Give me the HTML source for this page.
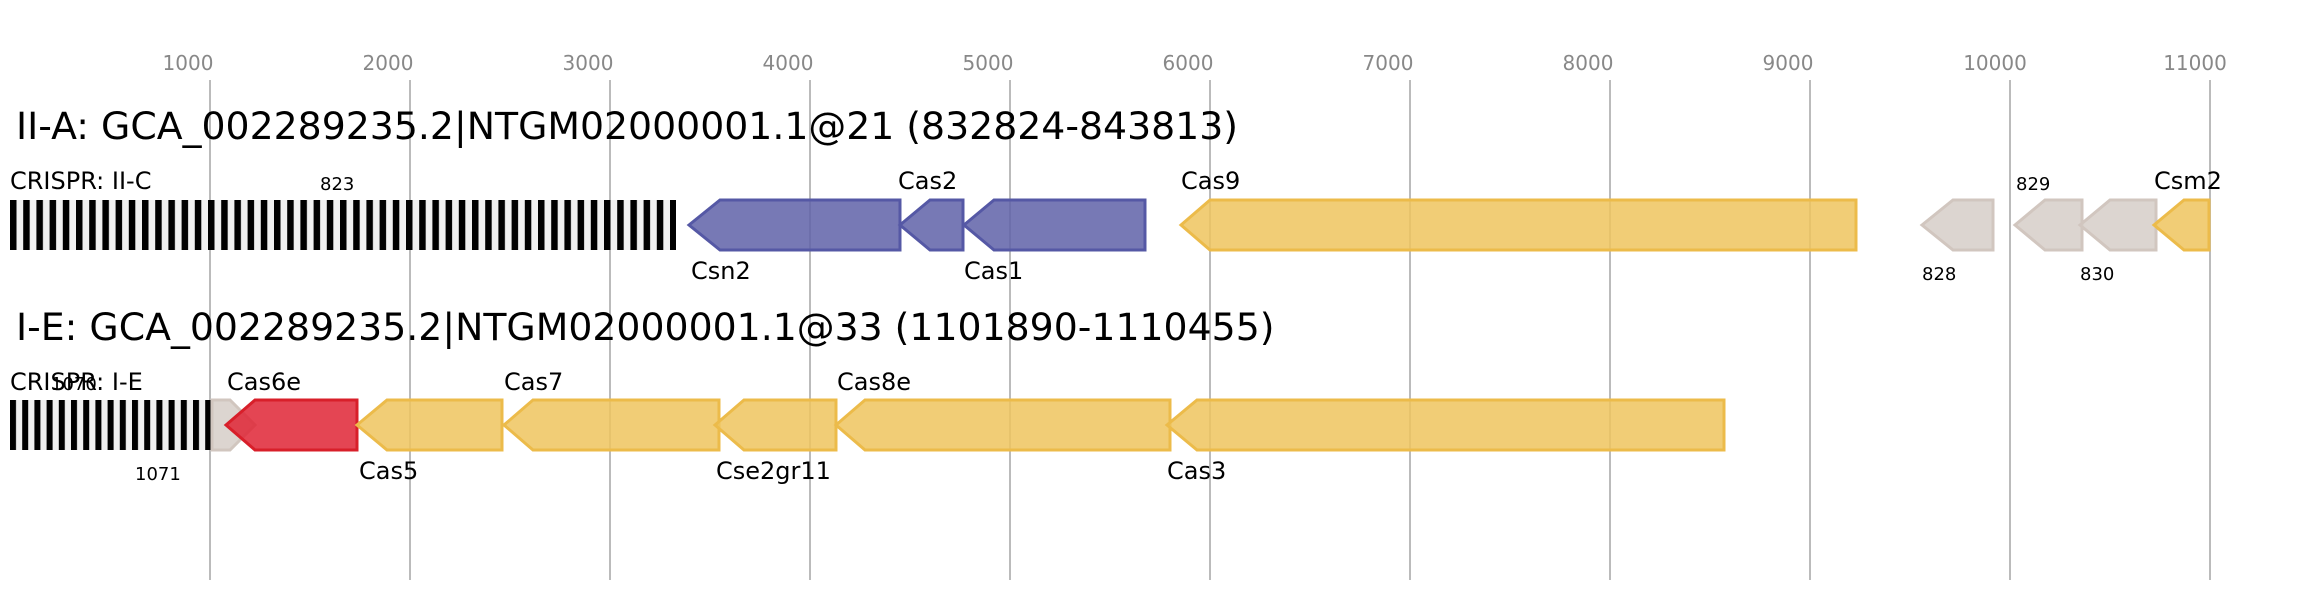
<!DOCTYPE html>
<html><head><meta charset="utf-8"><style>
html,body{margin:0;padding:0;background:#fff;}
svg{display:block;font-family:"DejaVu Sans","Liberation Sans",sans-serif;}
</style></head><body>
<svg width="2298" height="600" viewBox="0 0 2298 600" xmlns="http://www.w3.org/2000/svg">
<defs>
<pattern id="cr1" x="10" y="0" width="13.2" height="600" patternUnits="userSpaceOnUse">
<rect x="0" y="0" width="13.2" height="600" fill="#f0f0f0"/><rect x="0" y="0" width="6.5" height="600" fill="#000"/></pattern>
<pattern id="cr2" x="10" y="0" width="12.2" height="600" patternUnits="userSpaceOnUse">
<rect x="0" y="0" width="12.2" height="600" fill="#f0f0f0"/><rect x="0" y="0" width="6" height="600" fill="#000"/></pattern>
</defs>
<g fill="#888" font-size="20" text-anchor="middle">
<text x="188" y="70">1000</text><text x="388" y="70">2000</text><text x="588" y="70">3000</text>
<text x="788" y="70">4000</text><text x="988" y="70">5000</text><text x="1188" y="70">6000</text>
<text x="1388" y="70">7000</text><text x="1588" y="70">8000</text><text x="1788" y="70">9000</text>
<text x="1995" y="70">10000</text><text x="2195" y="70">11000</text>
</g>
<g stroke="#bbb" stroke-width="2">
<line x1="210" y1="80" x2="210" y2="580"/><line x1="410" y1="80" x2="410" y2="580"/>
<line x1="610" y1="80" x2="610" y2="580"/><line x1="810" y1="80" x2="810" y2="580"/>
<line x1="1010" y1="80" x2="1010" y2="580"/><line x1="1210" y1="80" x2="1210" y2="580"/>
<line x1="1410" y1="80" x2="1410" y2="580"/><line x1="1610" y1="80" x2="1610" y2="580"/>
<line x1="1810" y1="80" x2="1810" y2="580"/><line x1="2010" y1="80" x2="2010" y2="580"/>
<line x1="2210" y1="80" x2="2210" y2="580"/>
</g>
<text x="16" y="139" font-size="37.8" fill="#000">II-A: GCA_002289235.2|NTGM02000001.1@21 (832824-843813)</text>
<text x="16" y="340" font-size="37.8" fill="#000">I-E: GCA_002289235.2|NTGM02000001.1@33 (1101890-1110455)</text>

<rect x="10" y="200" width="666" height="50" fill="url(#cr1)"/>
<rect x="10" y="400" width="201" height="50" fill="url(#cr2)"/>

<g stroke-width="3" fill-opacity="0.85">
<g fill="#5f62a8" stroke="#5558a5">
<polygon points="689,225 720,200 900,200 900,250 720,250"/>
<polygon points="900,225 930,200 963,200 963,250 930,250"/>
<polygon points="964,225 994,200 1145,200 1145,250 994,250"/>
</g>
<polygon points="1181,225 1210,200 1856,200 1856,250 1210,250" fill="#efc45e" stroke="#ecbb4a"/>
<g fill="#d6cec8" stroke="#d1c6bf">
<polygon points="1922,225 1953,200 1993,200 1993,250 1953,250"/>
<polygon points="2015,225 2045,200 2082,200 2082,250 2045,250"/>
<polygon points="2080,225 2110,200 2156,200 2156,250 2110,250"/>
<polygon points="212,400 230,400 255,425 230,450 212,450"/>
</g>
<polygon points="2154,225 2184,200 2209,200 2209,250 2184,250" fill="#efc45e" stroke="#ecbb4a"/>
<polygon points="226,425 255,400 357,400 357,450 255,450" fill="#df2535" stroke="#d81f2a"/>
<g fill="#efc45e" stroke="#ecbb4a">
<polygon points="357,425 387,400 502,400 502,450 387,450"/>
<polygon points="504,425 533,400 719,400 719,450 533,450"/>
<polygon points="715,425 744,400 836,400 836,450 744,450"/>
<polygon points="836,425 865,400 1170,400 1170,450 865,450"/>
<polygon points="1167,425 1197,400 1724,400 1724,450 1197,450"/>
</g>
</g>

<g font-size="24" fill="#000">
<text x="10" y="189">CRISPR: II-C</text>
<text x="898" y="189">Cas2</text>
<text x="1181" y="189">Cas9</text>
<text x="2154" y="189">Csm2</text>
<text x="691" y="279">Csn2</text>
<text x="964" y="279">Cas1</text>
<text x="10" y="390">CRISPR: I-E</text>
<text x="227" y="390">Cas6e</text>
<text x="504" y="390">Cas7</text>
<text x="837" y="390">Cas8e</text>
<text x="359" y="479">Cas5</text>
<text x="716" y="479">Cse2gr11</text>
<text x="1167" y="479">Cas3</text>
</g>
<g font-size="18" fill="#000">
<text x="320" y="190">823</text>
<text x="2016" y="190">829</text>
<text x="1922" y="280">828</text>
<text x="2080" y="280">830</text>
<text x="51" y="390">1070</text>
<text x="135" y="480">1071</text>
</g>
</svg>
</body></html>
